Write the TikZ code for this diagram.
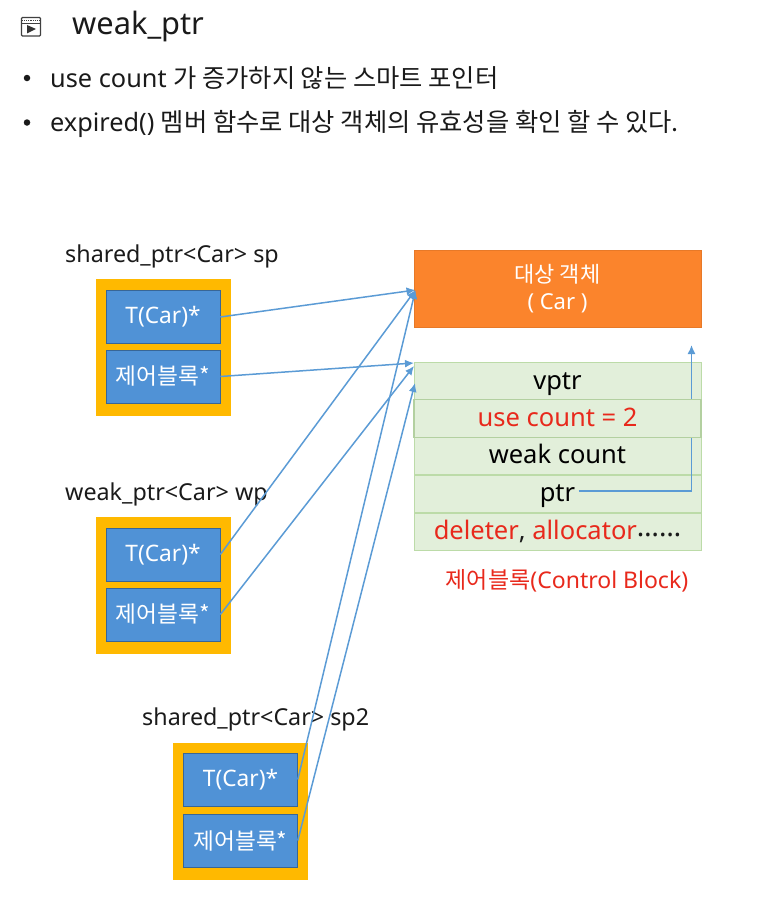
\documentclass[tikz,border=0pt]{standalone}
\usepackage{fontspec}
\setmainfont{Noto Sans}
\newfontfamily\kr{Noto Sans CJK KR}
\usetikzlibrary{arrows.meta}
\pgfdeclarelayer{front}
\pgfsetlayers{main,front}
\definecolor{ptrblue}{HTML}{5B9BD5}
\definecolor{boxblue}{HTML}{5092D6}
\definecolor{holdyellow}{HTML}{FFB900}
\definecolor{objorange}{HTML}{FB842C}
\definecolor{rowgreen}{HTML}{E2EFDA}
\definecolor{rowedge}{HTML}{BCDBA8}
\definecolor{txtred}{HTML}{E8291C}
\definecolor{txtblack}{HTML}{1A1A1A}
\tikzset{
	holder/.style={shape=rectangle, fill=holdyellow, minimum width=135pt, minimum height=137pt, inner sep=0pt},
	ptrbox/.style={shape=rectangle, fill=boxblue, draw=black!30!boxblue, line width=0.6pt, text=white, minimum width=114pt, minimum height=53pt, inner sep=0pt, font=\fontsize{22.7}{26}\selectfont},
	row/.style={shape=rectangle, fill=rowgreen, draw=rowedge, line width=0.8pt, minimum width=287pt, minimum height=37.6pt, inner sep=0pt, text height=18pt, text depth=3pt, font=\fontsize{25.5}{30}\selectfont},
	label/.style={anchor=west, inner sep=0pt, text=txtblack, font=\fontsize{23.3}{28}\selectfont},
	line/.style={anchor=west, inner sep=0pt, text=txtblack, font=\fontsize{25.3}{30}\selectfont},
	refline/.style={draw=ptrblue, line width=1.5pt, -{Latex[length=9pt,width=8pt]}}
}
\begin{document}
\begin{tikzpicture}[x=1pt, y=-1pt]
	\useasboundingbox (0,0) rectangle (758,899);
	% heading
	\draw[line width=1.1pt, draw=black!75, rounded corners=1pt] (21.5,17.5) rectangle (40.5,36);
	\draw[line width=1.1pt, draw=black!75, densely dotted] (22,20.5) -- (40,20.5);
	\draw[line width=0.8pt, draw=black!75] (21.5,23) -- (40.5,23);
	\fill[black!80] (27,25) -- (36,29) -- (27,33.5) -- cycle;
	\draw (72,26) node[line, font=\fontsize{30.8}{36}\selectfont](title){weak\_ptr};
	\draw (27,78) node[shape=circle, fill=txtblack, inner sep=0pt, minimum size=6.5pt](dota){};
	\draw (50,78.5) node[line](linea){use count {\kr 가 증가하지 않는 스마트 포인터}};
	\draw (27,122.5) node[shape=circle, fill=txtblack, inner sep=0pt, minimum size=6.5pt](dotb){};
	\draw (50,123.5) node[line](lineb){expired() {\kr 멤버 함수로 대상 객체의 유효성을 확인 할 수 있다.}};

	% target and control block
	\draw (557.5,289) node[shape=rectangle, fill=objorange, draw=black!8!objorange, line width=0.6pt, text=white, minimum width=287pt, minimum height=77pt, inner sep=0pt, align=center, font=\fontsize{22}{27}\selectfont](obj){{\kr 대상 객체}\\( Car )};
	\draw (557.5,381.5) node[row](vptr){vptr};
	\draw (557.5,456) node[row](weak){weak count};
	\draw (557.5,494) node[row](ptr){ptr};
	\draw (557.5,532) node[row, text=txtred](del){deleter{\color{txtblack},} allocator{\color{txtblack}\fontsize{28}{30}\selectfont\raisebox{3pt}{……}}};
	\draw (567,580.5) node[inner sep=0pt, text=txtred, font=\fontsize{23}{27}\selectfont](cblabel){{\kr 제어블록}(Control Block)};
	\begin{pgfonlayer}{front}
		\draw (557.5,418.5) node[row, draw=black!5!rowedge, line width=1.2pt, text=txtred](use){use count = 2};
	\end{pgfonlayer}

	% free ends of the connectors
	\coordinate (objend) at (415.5,290);
	\coordinate (cbenda) at (414,363);
	\coordinate (cbendb) at (414,366);
	\coordinate (cbendc) at (415,383);
	\coordinate (ptrend) at (691.5,345);

	% sp
	\draw (65,256) node[label](sp){shared\_ptr<Car> sp};
	\draw (163.5,347.5) node[holder](holda){};
	\draw (163,317) node[ptrbox](ta){\raisebox{-1pt}{T(Car)*}};
	\draw (163,376.5) node[ptrbox](ca){\kr 제어블록*};
	% wp
	\draw (65,494) node[label](wp){weak\_ptr<Car> wp};
	\draw (163.5,585.5) node[holder](holdb){};
	\draw (163,554.5) node[ptrbox](tb){\raisebox{-1pt}{T(Car)*}};
	\draw (163,614.5) node[ptrbox](cb){\kr 제어블록*};
	% sp2
	\draw (142,719) node[label](spb){shared\_ptr<Car> sp2};
	\draw (240.5,811) node[holder](holdc){};
	\draw (240.5,779.5) node[ptrbox](tc){\raisebox{-1pt}{T(Car)*}};
	\draw (240.5,840.5) node[ptrbox](cc){\kr 제어블록*};

	\draw [refline](ta.east) -- (objend);
	\draw [refline](ca.east) -- (cbenda);
	\draw [refline](tb.east) -- (objend);
	\draw [refline](cb.east) -- (cbendb);
	\draw [refline](tc.east) -- (objend);
	\draw [refline](cc.east) -- (cbendc);
	\draw [refline](ptr.center) ++(21,-3) -- ++(113,0) -- (ptrend);
\end{tikzpicture}
\end{document}
